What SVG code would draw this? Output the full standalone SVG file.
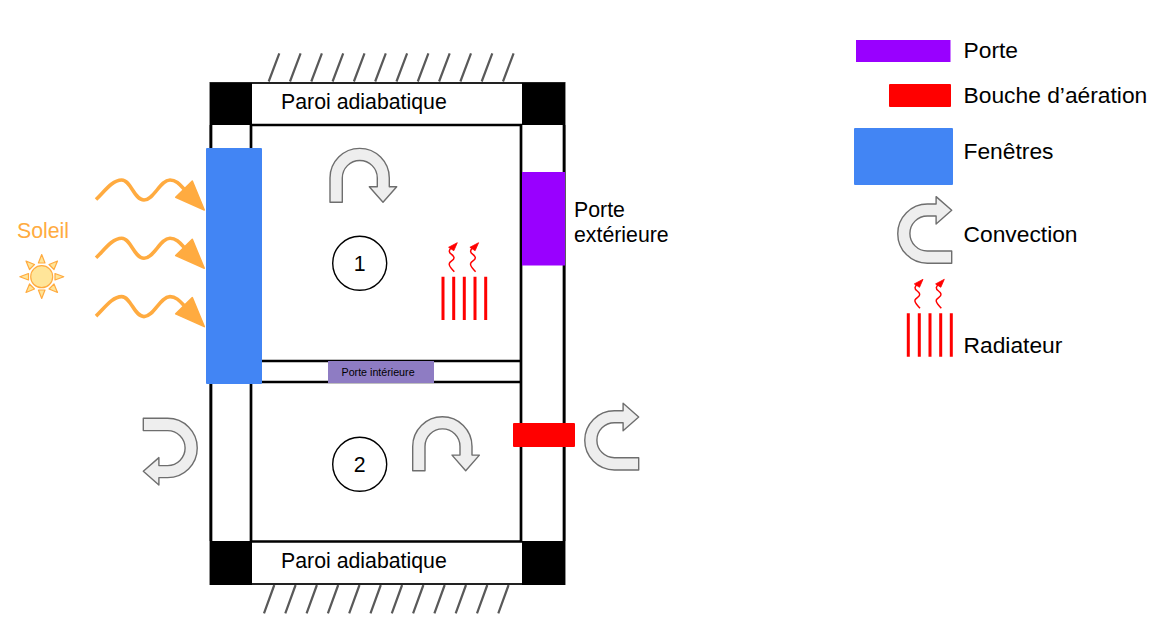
<svg xmlns="http://www.w3.org/2000/svg" width="1165" height="632" viewBox="0 0 1165 632">
<style>
text{font-family:"Liberation Sans",Arial,sans-serif;font-size:21.300px;fill:#000}
.leg{font-size:22.800px}
.wall{fill:none;stroke:#000;stroke-width:2.700}
.black{fill:#000}
.hatch{stroke:#595959;stroke-width:2.200;fill:none}
.conv{fill:#eee;stroke:#6e6e6e;stroke-width:1.400;stroke-linejoin:round}
.wave{fill:none;stroke:#ffab40;stroke-width:3.600}
.wavehead{fill:#ffab40;stroke:#ffab40;stroke-width:1.500;stroke-linejoin:round}
.rad{stroke:#f00;stroke-width:3;fill:none}
.squig{stroke:#f00;stroke-width:1.500;fill:none}
.room{fill:#fff;stroke:#000;stroke-width:1.400}
</style>
<defs>
<path id="uarrow" class="conv" d="M330,202.300V178A29.500,29.500 0 0 1 389.300,178V186.700H396.700L383,202.300L369.300,186.700H377.300V178A17.500,17.500 0 0 0 342.300,178V202.300Z"/>
<path id="wave" class="wave" d="M96,199.500C104,192 112,180 121.700,180C131,180 134,200 144,200C154,200 160,180 170,180C177,180 181,186 186,191"/>
<path id="wavehead" class="wavehead" d="M204.300,210L192.300,181L175.700,197.300Z"/>
<g id="rays">
<path class="squig" d="M454.300,271.700C451,268 448.500,266 449.300,263.500C450,261 454.500,260.500 454,257.500C453.500,254.500 449,254 449.300,251C449.500,249.500 451,248 452.500,247"/>
<path d="M457.300,242.700L448.600,247.300L453.800,250.700Z" fill="#f00" stroke="#f00" stroke-width=".8"/>
</g>
</defs>

<g id="connectors">
<g id="hatch-top">
<path class="hatch" d="M268.700,81.500L279.300,53.300M290,81.500L300.600,53.300M311.300,81.500L321.900,53.300M332.600,81.500L343.200,53.300M353.900,81.500L364.500,53.300M375.200,81.500L385.800,53.300M396.500,81.500L407.100,53.300M417.800,81.500L428.400,53.300M439.100,81.500L449.700,53.300M460.400,81.500L471,53.300M481.700,81.500L492.300,53.300M503,81.500L513.600,53.300"/>
</g>
<g id="hatch-bottom">
<path class="hatch" d="M274.300,585L264,613.300M295.600,585L285.300,613.300M316.900,585L306.600,613.300M338.200,585L327.900,613.300M359.500,585L349.200,613.300M380.800,585L370.500,613.300M402.100,585L391.800,613.300M423.400,585L413.100,613.300M444.700,585L434.400,613.300M466,585L455.700,613.300M487.300,585L477,613.300M508.600,585L498.300,613.300"/>
</g>
<use href="#wave"/><use href="#wavehead"/>
<use href="#wave" y="58.300"/><use href="#wavehead" y="58.300"/>
<use href="#wave" y="116.600"/><use href="#wavehead" y="116.600"/>
</g>

<g id="building">
<rect x="210.500" y="83" width="354" height="501" fill="#fff" stroke="#222" stroke-width="2"/>
<rect class="black" x="210" y="83" width="42" height="42"/>
<rect class="black" x="522" y="83" width="43" height="42"/>
<rect class="black" x="210" y="541" width="42" height="44"/>
<rect class="black" x="522" y="541" width="43" height="44"/>
<path class="wall" d="M251,125H521V541.500H251ZM211,125V541M564,125V541M251,361H521M251,382H521"/>
</g>

<g id="window"><rect x="206" y="148" width="56" height="236" rx="1" fill="#4285f4"/></g>
<g id="door-ext"><rect x="522" y="172" width="43" height="93.500" fill="#9900ff"/></g>
<g id="door-int"><rect x="328" y="361" width="106" height="22" fill="#8e7cc3"/><text x="341.500" y="376" style="font-size:10.700px">Porte intérieure</text></g>
<g id="vent"><rect x="513" y="423" width="62" height="24" rx="1" fill="#f00"/></g>

<g id="wall-top"><text x="281" y="109">Paroi adiabatique</text></g>
<g id="wall-bottom"><text x="281" y="568">Paroi adiabatique</text></g>
<g id="room1"><circle class="room" cx="359.700" cy="263.300" r="27"/><text x="359.700" y="270.500" text-anchor="middle">1</text></g>
<g id="room2"><circle class="room" cx="359.700" cy="464.300" r="27"/><text x="359.700" y="472" text-anchor="middle">2</text></g>

<g id="conv-room1"><use href="#uarrow"/></g>
<g id="conv-room2"><use href="#uarrow" x="82.700" y="268.400"/></g>
<g id="conv-right"><use href="#uarrow" transform="matrix(0 -1 1 0 436.400 800)"/></g>
<g id="conv-left"><use href="#uarrow" transform="matrix(0 1 -1 0 345.600 88.300)"/></g>

<g id="radiator">
<path class="rad" d="M443,276.700V320M453.700,276.700V320M464.300,276.700V320M475,276.700V320M485.700,276.700V320"/>
<use href="#rays"/><use href="#rays" x="21.300"/>
</g>

<g id="sun">
<circle cx="41.700" cy="276.700" r="11" fill="#ffe599" stroke="#ffab40" stroke-width="1.200"/>
<path d="M41.700,254.500L45,263H38.400ZM41.700,298.500L45,290H38.400ZM19.800,276.700L28.500,273.500V280ZM63.800,276.700L55,273.500V280ZM26,261L34.500,264.500L29.500,269.500ZM57.500,261L49,264.500L54,269.500ZM26,292.500L34.500,289L29.500,284ZM57.500,292.500L49,289L54,284Z" fill="#ffe599" stroke="#ffab40" stroke-width="1.200" stroke-linejoin="round"/>
<text x="17" y="237.500" style="fill:#ffab40">Soleil</text>
</g>
<g id="label-door"><text x="574" y="217">Porte</text><text x="574" y="242">extérieure</text></g>

<g id="legend-door"><rect x="856" y="40" width="94.500" height="22" fill="#9900ff"/><text class="leg" x="963.500" y="57.500">Porte</text></g>
<g id="legend-vent"><rect x="889" y="84" width="62" height="23" rx="1" fill="#f00"/><text class="leg" x="963.500" y="102.500">Bouche d’aération</text></g>
<g id="legend-window"><rect x="854" y="128" width="99" height="57" rx="1" fill="#4285f4"/><text class="leg" x="963.500" y="158.500">Fenêtres</text></g>
<g id="legend-convection"><use href="#uarrow" transform="matrix(0 -1 1 0 749.400 593.300)"/><text class="leg" x="963.500" y="241.500">Convection</text></g>
<g id="legend-radiator">
<path class="rad" d="M908.300,313.300V356.700M919.300,313.300V356.700M930,313.300V356.700M940.700,313.300V356.700M951.300,313.300V356.700"/>
<use href="#rays" x="465.700" y="36.600"/><use href="#rays" x="487" y="36.600"/>
<text class="leg" x="963.500" y="352.500">Radiateur</text>
</g>
</svg>
